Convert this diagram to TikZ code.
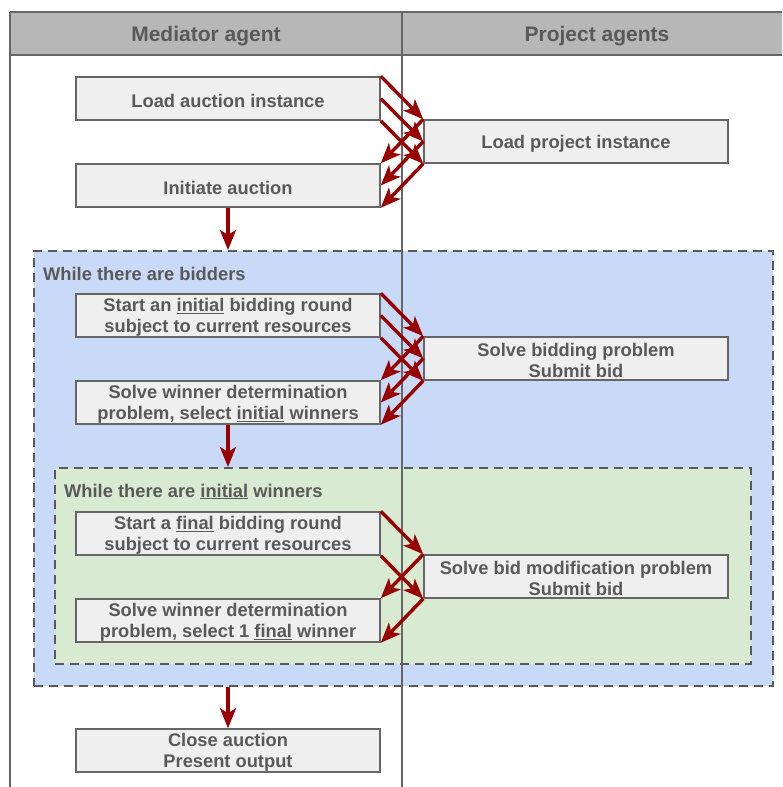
\documentclass[tikz,border=0pt]{standalone}
\usepackage{fontspec}
\setmainfont{Liberation Sans}
\usetikzlibrary{arrows.meta}
\definecolor{txt}{HTML}{595959}
\definecolor{boxline}{HTML}{666666}
\definecolor{boxfill}{HTML}{EFEFEF}
\definecolor{headfill}{HTML}{B7B7B7}
\definecolor{flowred}{HTML}{990000}
\definecolor{outerfill}{HTML}{C9DAF8}
\definecolor{innerfill}{HTML}{D9EAD3}
\definecolor{dashc}{HTML}{595959}
\begin{document}
\begin{tikzpicture}[x=1pt,y=-1pt,
  font=\fontsize{18.3}{21}\selectfont\bfseries,
  task/.style={draw=boxline, fill=boxfill, line width=1.5pt, minimum width=304pt,
    minimum height=43pt, inner sep=0pt},
  oneline/.style={text=txt, inner sep=0pt, align=center, yshift=-2.5pt},
  twoline/.style={text=txt, inner sep=0pt, align=center, yshift=-1.5pt},
  flow/.style={draw=flowred, line width=3.4pt,
    -{Stealth[length=20pt,width=16pt,inset=5pt]}},
  loopbox/.style={draw=dashc, dash pattern=on 9pt off 6pt, line width=2pt,
    inner sep=0pt, anchor=north west},
  looplabel/.style={anchor=west, text=txt, inner sep=0pt, yshift=-1.5pt},
  lane/.style={draw=boxline, line width=1.2pt},
  headtext/.style={text=txt, font=\fontsize{21}{24}\selectfont\bfseries}]
\useasboundingbox (0,0) rectangle (782,787);

% header row
\fill[headfill] (10,12) rectangle (782,55);
\draw[lane] (10,12) -- (782,12);
\draw[lane] (10,55) -- (782,55);
\node[headtext] (hmed) at (206,36) {Mediator agent};
\node[headtext] (hproj) at (597,36) {Project agents};

% loop regions
\node[loopbox, fill=outerfill, minimum width=739pt, minimum height=435pt] (outer) at (33,250) {};
\node[loopbox, fill=innerfill, minimum width=696pt, minimum height=196pt] (inner) at (54,467) {};
\node[looplabel] (outerlbl) at (43,272) {While there are bidders};
\node[looplabel] (innerlbl) at (64,490) {While there are \underline{initial} winners};

% lane borders
\draw[lane] (10,12) -- (10,787);
\draw[lane] (402,12) -- (402,787);

% tasks (box plus centred caption)
\node[task, label={[oneline]center:Load auction instance}] (load) at (228,98.5) {};
\node[task, label={[oneline]center:Load project instance}] (proj) at (576,141.5) {};
\node[task, label={[oneline]center:Initiate auction}] (init) at (228,185.5) {};
\node[task, label={[twoline]center:{Start an \underline{initial} bidding round\\subject to current resources}}] (start1) at (228,315.5) {};
\node[task, label={[twoline]center:{Solve bidding problem\\Submit bid}}] (solve1) at (576,358.5) {};
\node[task, label={[twoline]center:{Solve winner determination\\problem, select \underline{initial} winners}}] (wd1) at (228,402.5) {};
\node[task, label={[twoline]center:{Start a \underline{final} bidding round\\subject to current resources}}] (start2) at (228,533.5) {};
\node[task, label={[twoline]center:{Solve bid modification problem\\Submit bid}}] (solve2) at (576,576.5) {};
\node[task, label={[twoline]center:{Solve winner determination\\problem, select 1 \underline{final} winner}}] (wd2) at (228,620.5) {};
\node[task, label={[twoline]center:{Close auction\\Present output}}] (close) at (228,750.5) {};

% message flows between lanes
\draw[flow] (load.north east) -- (proj.north west);
\draw[flow] (load.east) -- (proj.west);
\draw[flow] (load.south east) -- (proj.south west);
\draw[flow] (proj.north west) -- (init.north east);
\draw[flow] (proj.west) -- (init.east);
\draw[flow] (proj.south west) -- (init.south east);

\draw[flow] (start1.north east) -- (solve1.north west);
\draw[flow] (start1.east) -- (solve1.west);
\draw[flow] (start1.south east) -- (solve1.south west);
\draw[flow] (solve1.north west) -- (wd1.north east);
\draw[flow] (solve1.west) -- (wd1.east);
\draw[flow] (solve1.south west) -- (wd1.south east);

\draw[flow] (start2.north east) -- (solve2.north west);
\draw[flow] (start2.south east) -- (solve2.south west);
\draw[flow] (solve2.north west) -- (wd2.north east);
\draw[flow] (solve2.south west) -- (wd2.south east);

% sequence flows
\draw[flow] (init.south) -- (init.south |- outer.north);
\draw[flow] (wd1.south) -- (wd1.south |- inner.north);
\draw[flow] (close.north |- outer.south) -- (close.north);
\end{tikzpicture}
\end{document}
